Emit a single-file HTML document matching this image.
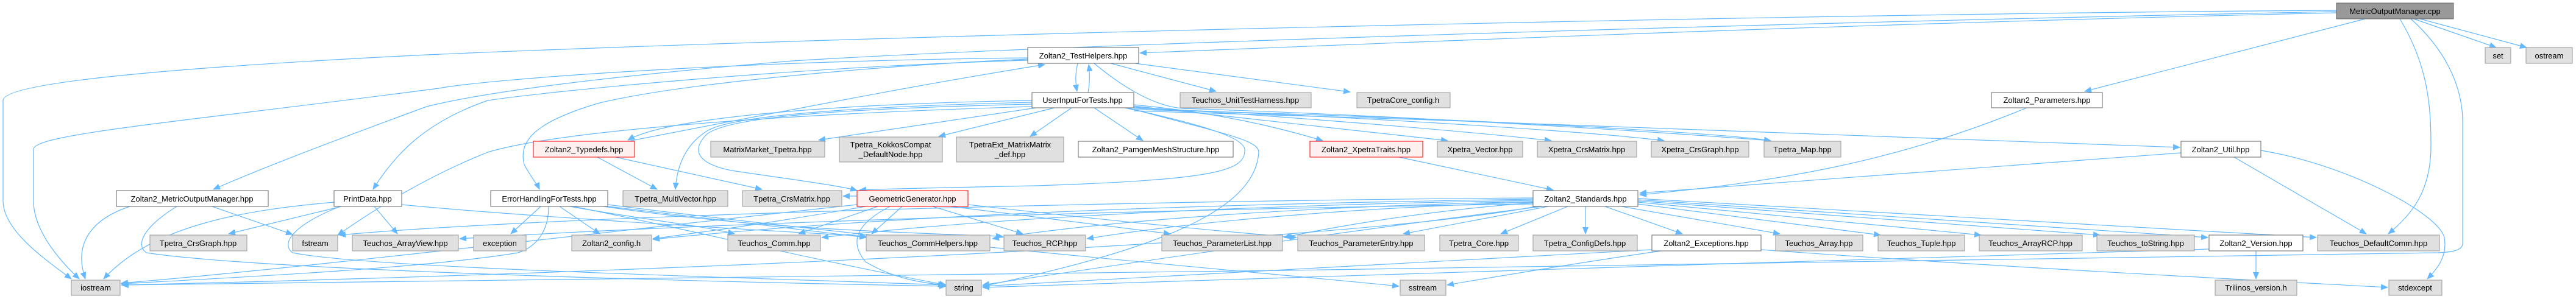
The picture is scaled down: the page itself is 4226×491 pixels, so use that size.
<!DOCTYPE html>
<html><head><meta charset="utf-8"><style>
html,body{margin:0;padding:0;background:#fff;}
svg{display:block;}
text{font-family:"Liberation Sans",sans-serif;font-size:13px;fill:#000;}
.e{fill:none;stroke:#63b8ff;stroke-width:1.2;marker-end:url(#a);}
.w{fill:#fff;stroke:#666;stroke-width:1;}
.g{fill:#e0e0e0;stroke:#999;stroke-width:1;}
.r{fill:#fff0f0;stroke:#ff0000;stroke-width:1;}
.k{fill:#999;stroke:#666;stroke-width:1;}
</style></head><body>
<svg width="4226" height="491" viewBox="0 0 4226 491" xmlns="http://www.w3.org/2000/svg">
<defs><marker id="a" markerUnits="userSpaceOnUse" markerWidth="12" markerHeight="10" refX="11" refY="5" orient="auto"><path d="M0,0 L12,5 L0,10 z" fill="#63b8ff"/></marker></defs>
<g>
<!-- Metric cpp -->
<path class="e" d="M3833,17 C3000,22 1500,55 700,90 C200,115 5,140 5,165 L5,330 C5,380 80,430 117,458"/>
<path class="e" d="M3833,19 C2800,40 1700,75 1300,100 C1000,125 800,150 700,175 C550,230 420,280 350,311"/>
<path class="e" d="M3833,21 C3000,40 2300,70 1870,87"/>
<path class="e" d="M3880,31 L3420,150"/>
<path class="e" d="M3937,31 C3985,110 3988,180 3988,240 C3988,310 3960,350 3918,384"/>
<path class="e" d="M3955,31 C4010,80 4040,140 4040,200 L4040,400 C4040,412 4020,414 4000,415 C3000,435 1200,455 200,468"/>
<path class="e" d="M3960,31 L4095,78"/>
<path class="e" d="M3970,31 L4145,78"/>
<!-- TestHelpers -->
<path class="e" d="M1768,104 C1764,120 1764,135 1767,150"/>
<path class="e" d="M1785,152 C1788,135 1788,120 1786,106"/>
<path class="e" d="M1822,104 L1995,150"/>
<path class="e" d="M1862,104 L2215,151"/>
<path class="e" d="M1795,104 C1850,150 1900,175 1940,178 C2300,190 2700,215 2905,231"/>
<path class="e" d="M1686,95 C1200,100 800,130 720,145 C300,200 55,220 55,245 L55,330 C55,380 100,430 130,458"/>
<path class="e" d="M1686,97 C1400,110 1100,140 980,170 C880,200 850,230 860,270 C870,290 880,300 885,311"/>
<path class="e" d="M1686,99 C1300,110 900,150 800,165 C700,200 650,250 612,311"/>
<path class="e" d="M1030,232 C1300,180 1500,140 1714,106"/>
<!-- UserInput -->
<path class="e" d="M1693,165 C1400,170 1100,190 1030,230"/>
<path class="e" d="M1693,168 C1400,175 1200,190 1160,215 C1120,240 1110,280 1108,311"/>
<path class="e" d="M1693,171 C1400,178 1200,190 1160,220 C1130,250 1150,270 1200,280 C1300,295 1380,305 1406,313"/>
<path class="e" d="M1700,177 L1343,230"/>
<path class="e" d="M1730,177 L1540,224"/>
<path class="e" d="M1758,177 L1690,224"/>
<path class="e" d="M1795,177 L1875,231"/>
<path class="e" d="M1693,175 C1200,190 900,220 800,250 C700,290 620,340 554,386"/>
<path class="e" d="M1860,172 C2000,185 2100,210 2170,231"/>
<path class="e" d="M1860,174 L2375,231"/>
<path class="e" d="M1860,176 C2100,190 2400,215 2545,231"/>
<path class="e" d="M1860,178 C2200,190 2600,215 2730,231"/>
<path class="e" d="M1860,180 C2300,190 2800,215 2905,231"/>
<path class="e" d="M1860,182 C2500,200 3300,230 3576,242"/>
<path class="e" d="M1845,177 C2000,210 2040,230 2042,245 C2044,280 2000,295 1700,305 C1550,308 1450,310 1410,312"/>
<path class="e" d="M1850,177 C2010,220 2065,230 2065,250 C2060,330 1950,400 1612,470"/>
<!-- Typedefs -->
<path class="e" d="M980,258 L1078,311"/>
<path class="e" d="M1010,258 L1250,311"/>
<!-- Geometric -->
<path class="e" d="M1420,339 C1300,360 1200,375 1071,392"/>
<path class="e" d="M1440,339 L1310,384"/>
<path class="e" d="M1460,339 C1400,370 1395,400 1420,430 C1470,460 1520,465 1550,468"/>
<path class="e" d="M1530,339 L1678,384"/>
<path class="e" d="M1560,339 L1920,384"/>
<path class="e" d="M1588,336 C1800,360 2000,380 2127,390"/>
<path class="e" d="M1480,339 L1430,384"/>
<path class="e" d="M1406,322 L1383,322"/>
<path class="e" d="M1406,336 C1000,380 500,440 199,465"/>
<!-- ErrorHandling -->
<path class="e" d="M887,339 L838,384"/>
<path class="e" d="M918,339 L984,384"/>
<path class="e" d="M935,339 C1050,360 1150,370 1205,384"/>
<path class="e" d="M997,339 L1421,390"/>
<path class="e" d="M990,339 C1200,370 1400,380 1645,388"/>
<path class="e" d="M900,339 C900,380 880,405 850,415 C700,440 400,455 199,466"/>
<path class="e" d="M940,339 C1100,370 1300,420 1552,468"/>
<path class="e" d="M997,336 C1500,400 2100,450 2295,470"/>
<!-- PrintData -->
<path class="e" d="M548,332 C400,345 250,370 170,458"/>
<path class="e" d="M560,339 L375,384"/>
<path class="e" d="M614,339 L652,384"/>
<path class="e" d="M558,339 C480,370 460,400 480,415 C600,440 1200,455 1552,468"/>
<path class="e" d="M659,336 C800,350 1100,370 1421,388"/>
<!-- MetricOutputManager.hpp -->
<path class="e" d="M213,339 C150,360 120,400 140,458"/>
<path class="e" d="M290,339 C240,370 220,400 240,415 C400,440 1000,460 1552,470"/>
<path class="e" d="M348,339 L480,385"/>
<!-- Standards -->
<path class="e" d="M2295,258 L2548,312"/>
<path class="e" d="M3578,251 C3200,280 2900,300 2690,317"/>
<path class="e" d="M3325,177 C3100,270 2900,300 2690,320"/>
<path class="e" d="M2515,327 C2000,335 1500,350 1071,393"/>
<path class="e" d="M2515,329 C2000,338 1600,360 1348,390"/>
<path class="e" d="M2515,331 C2100,340 1800,365 1628,392"/>
<path class="e" d="M2515,332 C2200,342 1950,365 1783,392"/>
<path class="e" d="M2515,333 C2350,345 2200,370 2106,390"/>
<path class="e" d="M2540,339 L2302,384"/>
<path class="e" d="M2572,339 L2462,384"/>
<path class="e" d="M2601,339 L2601,384"/>
<path class="e" d="M2633,339 L2760,384"/>
<path class="e" d="M2660,339 L2920,384"/>
<path class="e" d="M2687,335 L3085,386"/>
<path class="e" d="M2687,332 L3250,386"/>
<path class="e" d="M2687,330 L3445,386"/>
<path class="e" d="M2687,328 L3622,390"/>
<path class="e" d="M2687,326 L3800,390"/>
<path class="e" d="M2515,335 C1800,345 1100,370 754,392"/>
<path class="e" d="M2515,325 C1800,330 900,355 556,386"/>
<path class="e" d="M2530,339 C2200,380 1800,440 1612,468"/>
<path class="e" d="M2520,339 C2200,400 1000,450 199,468"/>
<!-- Exceptions / Version / Util -->
<path class="e" d="M2725,412 C2600,430 2450,455 2374,468"/>
<path class="e" d="M2710,410 C2300,430 1900,455 1612,470"/>
<path class="e" d="M2889,410 C3300,440 3700,460 3917,472"/>
<path class="e" d="M3701,412 L3701,458"/>
<path class="e" d="M3624,409 C3000,430 2000,455 1612,472"/>
<path class="e" d="M3665,258 L3882,384"/>
<path class="e" d="M3709,247 C3850,270 4000,350 4010,390 C4015,420 4000,440 3982,458"/>
</g>
<g>
<rect class="k" x="3833" y="5" width="192" height="26"/><text x="3929" y="23" text-anchor="middle">MetricOutputManager.cpp</text>
<rect class="w" x="1686" y="78" width="182" height="26"/><text x="1777" y="96" text-anchor="middle">Zoltan2_TestHelpers.hpp</text>
<rect class="g" x="4077" y="78" width="42" height="26"/><text x="4098" y="96" text-anchor="middle">set</text>
<rect class="g" x="4144" y="78" width="76" height="26"/><text x="4182" y="96" text-anchor="middle">ostream</text>
<rect class="w" x="1693" y="152" width="167" height="25"/><text x="1776" y="169" text-anchor="middle">UserInputForTests.hpp</text>
<rect class="g" x="1936" y="152" width="215" height="25"/><text x="2043" y="169" text-anchor="middle">Teuchos_UnitTestHarness.hpp</text>
<rect class="g" x="2226" y="152" width="153" height="25"/><text x="2302" y="169" text-anchor="middle">TpetraCore_config.h</text>
<rect class="w" x="3267" y="152" width="182" height="25"/><text x="3358" y="169" text-anchor="middle">Zoltan2_Parameters.hpp</text>
<rect class="r" x="875" y="232" width="166" height="26"/><text x="958" y="250" text-anchor="middle">Zoltan2_Typedefs.hpp</text>
<rect class="g" x="1166" y="232" width="187" height="26"/><text x="1259" y="250" text-anchor="middle">MatrixMarket_Tpetra.hpp</text>
<rect class="g" x="1377" y="225" width="169" height="41"/><text x="1461" y="242" text-anchor="middle">Tpetra_KokkosCompat</text><text x="1461" y="258" text-anchor="middle">_DefaultNode.hpp</text>
<rect class="g" x="1569" y="225" width="176" height="41"/><text x="1657" y="242" text-anchor="middle">TpetraExt_MatrixMatrix</text><text x="1657" y="258" text-anchor="middle">_def.hpp</text>
<rect class="w" x="1769" y="232" width="254" height="26"/><text x="1896" y="250" text-anchor="middle">Zoltan2_PamgenMeshStructure.hpp</text>
<rect class="r" x="2149" y="232" width="185" height="26"/><text x="2241" y="250" text-anchor="middle">Zoltan2_XpetraTraits.hpp</text>
<rect class="g" x="2358" y="232" width="140" height="26"/><text x="2428" y="250" text-anchor="middle">Xpetra_Vector.hpp</text>
<rect class="g" x="2522" y="232" width="163" height="26"/><text x="2603" y="250" text-anchor="middle">Xpetra_CrsMatrix.hpp</text>
<rect class="g" x="2709" y="232" width="160" height="26"/><text x="2789" y="250" text-anchor="middle">Xpetra_CrsGraph.hpp</text>
<rect class="g" x="2894" y="232" width="126" height="26"/><text x="2957" y="250" text-anchor="middle">Tpetra_Map.hpp</text>
<rect class="w" x="3578" y="232" width="131" height="26"/><text x="3643" y="250" text-anchor="middle">Zoltan2_Util.hpp</text>
<rect class="w" x="191" y="313" width="249" height="26"/><text x="315" y="331" text-anchor="middle">Zoltan2_MetricOutputManager.hpp</text>
<rect class="w" x="548" y="313" width="111" height="26"/><text x="603" y="331" text-anchor="middle">PrintData.hpp</text>
<rect class="w" x="805" y="313" width="192" height="26"/><text x="901" y="331" text-anchor="middle">ErrorHandlingForTests.hpp</text>
<rect class="g" x="1022" y="313" width="172" height="26"/><text x="1108" y="331" text-anchor="middle">Tpetra_MultiVector.hpp</text>
<rect class="g" x="1218" y="313" width="163" height="26"/><text x="1299" y="331" text-anchor="middle">Tpetra_CrsMatrix.hpp</text>
<rect class="r" x="1406" y="313" width="182" height="26"/><text x="1497" y="331" text-anchor="middle">GeometricGenerator.hpp</text>
<rect class="w" x="2515" y="313" width="172" height="26"/><text x="2601" y="331" text-anchor="middle">Zoltan2_Standards.hpp</text>
<rect class="g" x="246" y="386" width="159" height="26"/><text x="325" y="404" text-anchor="middle">Tpetra_CrsGraph.hpp</text>
<rect class="g" x="480" y="386" width="74" height="26"/><text x="517" y="404" text-anchor="middle">fstream</text>
<rect class="g" x="578" y="386" width="174" height="26"/><text x="665" y="404" text-anchor="middle">Teuchos_ArrayView.hpp</text>
<rect class="g" x="777" y="386" width="86" height="26"/><text x="820" y="404" text-anchor="middle">exception</text>
<rect class="g" x="938" y="386" width="131" height="26"/><text x="1003" y="404" text-anchor="middle">Zoltan2_config.h</text>
<rect class="g" x="1194" y="386" width="152" height="26"/><text x="1270" y="404" text-anchor="middle">Teuchos_Comm.hpp</text>
<rect class="g" x="1421" y="386" width="203" height="26"/><text x="1522" y="404" text-anchor="middle">Teuchos_CommHelpers.hpp</text>
<rect class="g" x="1647" y="386" width="134" height="26"/><text x="1714" y="404" text-anchor="middle">Teuchos_RCP.hpp</text>
<rect class="g" x="1906" y="386" width="198" height="26"/><text x="2005" y="404" text-anchor="middle">Teuchos_ParameterList.hpp</text>
<rect class="g" x="2129" y="386" width="208" height="26"/><text x="2233" y="404" text-anchor="middle">Teuchos_ParameterEntry.hpp</text>
<rect class="g" x="2362" y="386" width="129" height="26"/><text x="2426" y="404" text-anchor="middle">Tpetra_Core.hpp</text>
<rect class="g" x="2515" y="386" width="171" height="26"/><text x="2600" y="404" text-anchor="middle">Tpetra_ConfigDefs.hpp</text>
<rect class="w" x="2710" y="386" width="179" height="26"/><text x="2799" y="404" text-anchor="middle">Zoltan2_Exceptions.hpp</text>
<rect class="g" x="2913" y="386" width="143" height="26"/><text x="2984" y="404" text-anchor="middle">Teuchos_Array.hpp</text>
<rect class="g" x="3081" y="386" width="142" height="26"/><text x="3152" y="404" text-anchor="middle">Teuchos_Tuple.hpp</text>
<rect class="g" x="3247" y="386" width="169" height="26"/><text x="3331" y="404" text-anchor="middle">Teuchos_ArrayRCP.hpp</text>
<rect class="g" x="3440" y="386" width="160" height="26"/><text x="3520" y="404" text-anchor="middle">Teuchos_toString.hpp</text>
<rect class="w" x="3624" y="386" width="154" height="26"/><text x="3701" y="404" text-anchor="middle">Zoltan2_Version.hpp</text>
<rect class="g" x="3802" y="386" width="200" height="26"/><text x="3902" y="404" text-anchor="middle">Teuchos_DefaultComm.hpp</text>
<rect class="g" x="117" y="460" width="80" height="25"/><text x="157" y="477" text-anchor="middle">iostream</text>
<rect class="g" x="1552" y="460" width="58" height="25"/><text x="1581" y="477" text-anchor="middle">string</text>
<rect class="g" x="2297" y="460" width="75" height="25"/><text x="2334" y="477" text-anchor="middle">sstream</text>
<rect class="g" x="3634" y="460" width="134" height="25"/><text x="3701" y="477" text-anchor="middle">Trilinos_version.h</text>
<rect class="g" x="3919" y="460" width="87" height="25"/><text x="3962" y="477" text-anchor="middle">stdexcept</text>
</g>
</svg>
</body></html>
